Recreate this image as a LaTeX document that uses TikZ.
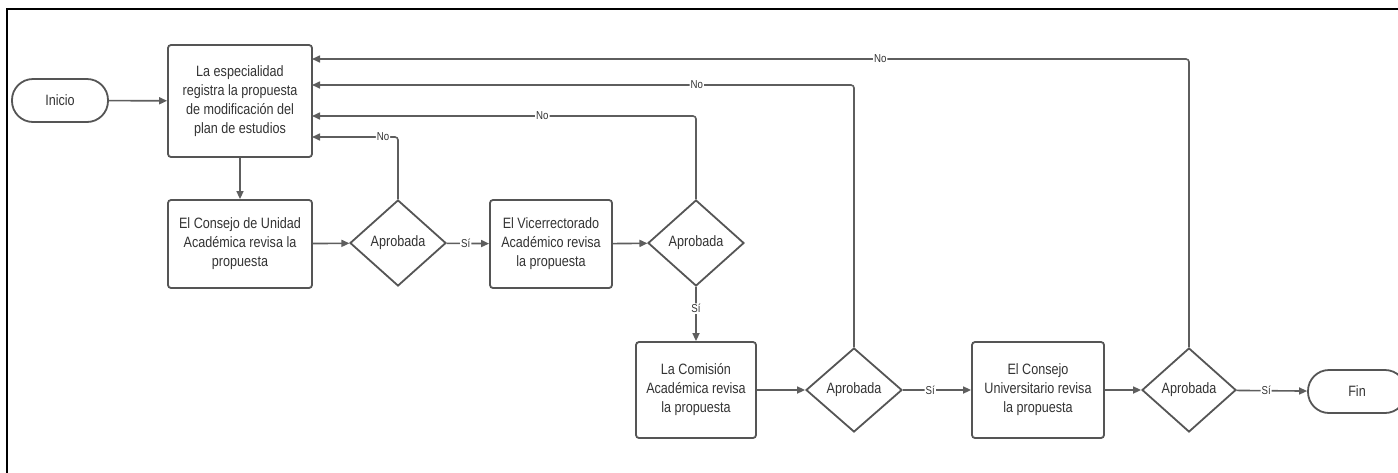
\documentclass[tikz,border=0pt]{standalone}
\usepackage{fontspec}
\setmainfont{Liberation Sans}[FakeStretch=0.84]
\usetikzlibrary{shapes.geometric,arrows.meta,calc}
\definecolor{edgegray}{HTML}{555555}
\definecolor{linegray}{HTML}{5E5E5E}
\definecolor{textgray}{HTML}{333333}
\tikzset{
  stepbox/.style={draw=edgegray, line width=1.8pt, rounded corners=3pt, align=center,
    text=textgray, inner sep=2pt, font=\fontsize{15}{19}\selectfont},
  terminal/.style={draw=edgegray, line width=1.8pt, rounded corners=21pt, align=center,
    text=textgray, font=\fontsize{15}{19}\selectfont},
  decision/.style={draw=edgegray, line width=1.8pt, diamond, inner sep=0pt,
    text=textgray, font=\fontsize{15}{18}\selectfont},
  flow/.style={draw=linegray, line width=1.6pt, rounded corners=3pt,
    -{Triangle[length=8pt,width=7pt]}},
  tag/.style={fill=white, inner sep=1pt, text=textgray, font=\fontsize{11.5}{12}\selectfont},
}
\begin{document}
\begin{tikzpicture}[x=1pt,y=-1pt]
\useasboundingbox (0,0) rectangle (1398,472);
\clip (0,0) rectangle (1398,472);

% page frame
\draw[black, line width=2.6pt] (7,480) -- (7,9) -- (1410,9);

% steps
\node[terminal, minimum width=96pt, minimum height=43pt] (ini) at (60,100.5) {Inicio};
\node[stepbox, minimum width=144pt, minimum height=112pt] (b1) at (240,101)
  {La especialidad\\registra la propuesta\\de modificación del\\plan de estudios};
\node[stepbox, minimum width=144pt, minimum height=88pt] (b2) at (240,244)
  {El Consejo de Unidad\\Académica revisa la\\propuesta};
\node[decision, minimum width=96pt, minimum height=86pt] (d1) at (398,243) {Aprobada};
\node[stepbox, minimum width=122pt, minimum height=88pt] (b3) at (551,244)
  {El Vicerrectorado\\Académico revisa\\la propuesta};
\node[decision, minimum width=96pt, minimum height=86pt] (d2) at (696,243) {Aprobada};
\node[stepbox, minimum width=120pt, minimum height=96pt] (b4) at (696,390)
  {La Comisión\\Académica revisa\\la propuesta};
\node[decision, minimum width=96pt, minimum height=84pt] (d3) at (854,390) {Aprobada};
\node[stepbox, minimum width=132pt, minimum height=96pt] (b5) at (1038,390)
  {El Consejo\\Universitario revisa\\la propuesta};
\node[decision, minimum width=94pt, minimum height=84pt] (d4) at (1189,390) {Aprobada};
\node[terminal, minimum width=98pt, minimum height=43pt] (fin) at (1357,391.5) {Fin};

% return points on the right side of the first step
\coordinate (r1) at (312,137);
\coordinate (r2) at (312,116);
\coordinate (r3) at (312,85);
\coordinate (r4) at (312,59);

% main flow
\draw[flow] (ini) -- (b1);
\draw[flow] (b1) -- (b2);
\draw[flow] (b2) -- (d1);
\draw[flow] (d1) -- node[tag, pos=0.45] {Sí} (b3);
\draw[flow] (b3) -- (d2);
\draw[flow] (d2) -- node[tag, pos=0.4] {Sí} (b4);
\draw[flow] (b4) -- (d3);
\draw[flow] (d3) -- node[tag, pos=0.4] {Sí} (b5);
\draw[flow] (b5) -- (d4);
\draw[flow] (d4) -- node[tag, pos=0.42] {Sí} (fin);

% rejections go back to the first step
\draw[flow] (d1.north) |- node[tag, pos=0.587] {No} (r1);
\draw[flow] (d2.north) |- node[tag, pos=0.70] {No} (r2);
\draw[flow] (d3.north) |- node[tag, pos=0.645] {No} (r3);
\draw[flow] (d4.north) |- node[tag, pos=0.676] {No} (r4);
\end{tikzpicture}
\end{document}
